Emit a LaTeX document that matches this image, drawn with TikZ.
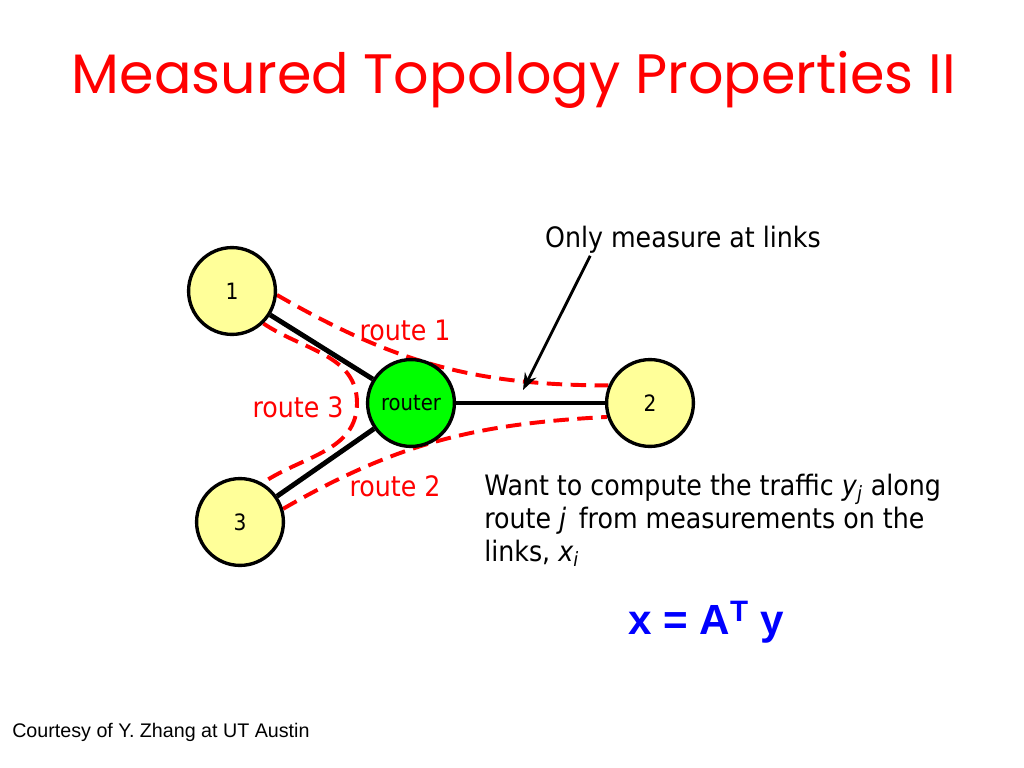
\documentclass[tikz,border=0pt]{standalone}
\usepackage{fontspec}
\setmainfont{DejaVu Sans Condensed}
\newfontfamily\titlefont{Poppins}
\newfontfamily\arialfont{Liberation Sans}
\usepackage{xcolor}
\usetikzlibrary{positioning, backgrounds, arrows.meta}
\definecolor{hostyellow}{RGB}{255,255,153}
\definecolor{routergreen}{RGB}{0,255,0}
\definecolor{routered}{RGB}{255,0,0}
\definecolor{formulablue}{RGB}{0,0,255}
\tikzset{
	host/.style={circle, draw, line width=2.4pt, fill=hostyellow, minimum size=2.17cm, inner sep=0pt, font=\fontsize{16}{18}\selectfont},
	hub/.style={host, fill=routergreen, font=\fontsize{15.5}{18}\selectfont},
	link/.style={line width=3.5pt},
	route/.style={routered, line width=2.8pt, dash pattern=on 11pt off 6pt},
	routelabel/.style={text=routered, font=\fontsize{20}{24}\selectfont},
	pointer/.style={line width=2pt, -{Stealth[length=12pt, width=9pt]}}
}

\begin{document}
\begin{tikzpicture}[x=0.025cm, y=-0.025cm]
	\useasboundingbox (0,0) rectangle (1024,768);
		\node[text=routered, font=\titlefont\fontsize{39.5}{46}\selectfont] (title) at (514,80) {Measured Topology Properties II};

		% hosts and router
		\node[host] (n1) at (232,291) {1};
		\node[hub] (router) at (411,403) {router};
		\node[host] (n2) at (650,403) {2};
		\node[host] (n3) at (240,522) {3};

		\draw[link] (n1) -- (router);
		\draw[link] (n3) -- (router);
		\draw[link] (router) -- (n2);

		% routes under the nodes
		\coordinate (bend) at (357,403);
		\begin{pgfonlayer}{background}
			\draw[route] (n1.-5) to[out=-30, in=180] (n2.157);
			\draw[route] (n3.17) to[out=30, in=183] (n2.-162);
			\draw[route] (n1.-46) to[out=-34, in=90] (bend) to[out=-90, in=34] (n3.60);
		\end{pgfonlayer}

		\node[routelabel] (r1) at (405,330) {route 1};
		\node[routelabel] (r3) at (298,407) {route 3};
		\node[routelabel] (r2) at (395,486) {route 2};

		% measurement arrow
		\node[font=\fontsize{20}{24}\selectfont] (measure) at (683,240) {Only measure at links};
		\coordinate (tip) at (523,390);
		\draw[pointer] ([xshift=1.25cm, yshift=2pt]measure.south west) -- (tip);

		\node[anchor=north west, align=left, inner sep=0pt, font=\fontsize{20}{23.5}\selectfont] (want) at (484,474)
			{Want to compute the traffic \textit{y}\textsubscript{\textit{j}} along\\
			 route \textit{j}\, from measurements on the\\
			 links, \textit{x}\textsubscript{\textit{i}}};
		\node[text=formulablue, font=\arialfont\bfseries\fontsize{30}{34}\selectfont] (formula) at (706,622) {x = A\textsuperscript{T} y};

		\node[anchor=west, inner sep=0pt, font=\arialfont\fontsize{14}{17}\selectfont] (courtesy) at (12,732) {Courtesy of Y. Zhang at UT Austin};
	\end{tikzpicture}
\end{document}
